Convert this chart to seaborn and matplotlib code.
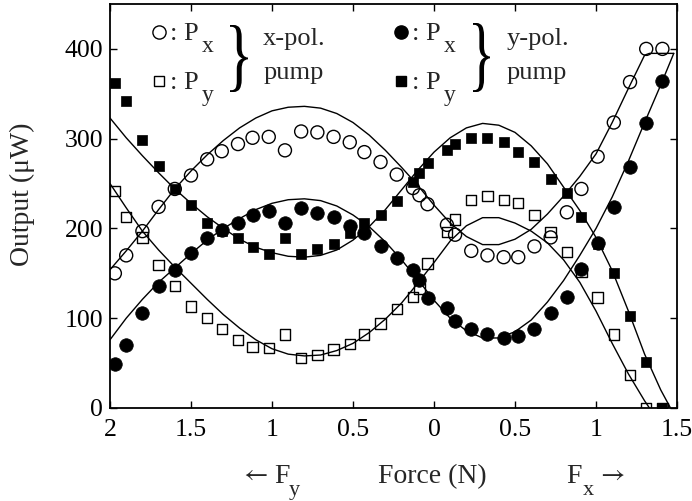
import matplotlib
matplotlib.use("Agg")
import matplotlib.pyplot as plt
import numpy as np
import pandas as pd
import seaborn as sns
from matplotlib.textpath import TextPath
from matplotlib.patches import PathPatch
from matplotlib.font_manager import FontProperties
from matplotlib.transforms import Affine2D, IdentityTransform
from matplotlib.ticker import FixedLocator, FuncFormatter

# ---------------------------------------------------------------- data
# Applied force (N). F_y is drawn to the left of zero, F_x to the right.
fy_force = [1.97, 1.90, 1.80, 1.70, 1.60, 1.50, 1.40, 1.31, 1.21, 1.12, 1.02,
            0.92, 0.82, 0.72, 0.62, 0.52, 0.43, 0.33, 0.23, 0.13, 0.09, 0.04]
fx_force = [0.08, 0.13, 0.23, 0.33, 0.43, 0.52, 0.62, 0.72, 0.82, 0.91, 1.01,
            1.11, 1.21, 1.31, 1.41]

# Measured output power (uW)
px_xpump = [150, 170, 197, 224, 244, 259, 277, 286, 294, 301, 302,
            287, 308, 307, 302, 296, 285, 274, 260, 245, 237, 227,
            204, 193, 175, 170, 168, 168, 180, 190, 218, 244, 280, 318, 363, 400, 400]
py_xpump = [242, 213, 190, 159, 136, 113, 100, 88, 76, 68, 67,
            82, 56, 59, 65, 71, 82, 94, 110, 124, 133, 161,
            196, 210, 232, 236, 232, 228, 215, 196, 174, 152, 123, 82, 37, 0, 0]
px_ypump = [49, 70, 106, 136, 154, 173, 189, 198, 206, 215, 219,
            206, 223, 217, 213, 203, 195, 181, 167, 154, 143, 122,
            111, 97, 88, 82, 78, 80, 88, 106, 124, 155, 184, 224, 268, 317, 364]
py_ypump = [362, 342, 298, 269, 244, 226, 206, 197, 189, 179, 171,
            189, 171, 177, 183, 195, 206, 215, 231, 252, 262, 273,
            287, 294, 301, 301, 296, 285, 274, 255, 240, 213, 183, 150, 102, 51, 0]

# Calculated curves on a signed force axis (negative = F_y side)
theory_pos = [-2.0, -1.9, -1.8, -1.7, -1.6, -1.5, -1.4, -1.3, -1.2, -1.1, -1.0,
              -0.9, -0.8, -0.7, -0.6, -0.5, -0.4, -0.3, -0.2, -0.1, 0.0,
              0.1, 0.2, 0.3, 0.4, 0.5, 0.6, 0.7, 0.8, 0.9, 1.0, 1.1, 1.2, 1.3]
px_xpump_calc = [154, 175, 197, 221, 244, 264, 282, 298, 312, 323, 331,
                 335, 336, 334, 328, 318, 304, 287, 268, 248, 226,
                 206, 191, 182, 182, 188, 199, 216, 236, 258, 283, 318, 356, 393]
px_ypump_calc = [76, 100, 121, 140, 156, 172, 187, 200, 211, 221, 228,
                 232, 233, 231, 225, 215, 202, 185, 165, 143, 120,
                 100, 86, 78, 78, 85, 98, 118, 142, 170, 200, 235, 275, 318]
py_ypump_calc = [323, 301, 281, 262, 244, 228, 213, 200, 188, 179, 173,
                 169, 168, 170, 176, 187, 202, 221, 243, 265, 285,
                 301, 312, 317, 315, 307, 292, 272, 246, 220, 190, 153, 108, 60]
py_xpump_calc = [250, 223, 197, 176, 157, 139, 121, 104, 89, 76, 66,
                 60, 58, 59, 64, 72, 84, 99, 117, 139, 162,
                 186, 203, 212, 212, 206, 197, 184, 165, 140, 108, 72, 38, 8]
# end segments of the calculated curves
px_xpump_tail_pos, px_xpump_tail_val = [1.33, 1.48], [395, 395]
px_ypump_tail_pos, px_ypump_tail_val = [1.4, 1.48], [360, 395]
py_ypump_tail_pos, py_ypump_tail_val = [1.4, 1.46], [20, 0]
py_xpump_tail_pos, py_xpump_tail_val = [1.33], [0]

x_ticks = [-2.0, -1.5, -1.0, -0.5, 0.0, 0.5, 1.0, 1.5]
y_ticks = [0, 100, 200, 300, 400]

# ---------------------------------------------------------------- style
sns.set_theme(style="ticks")
plt.rcParams["font.family"] = ["Liberation Serif", "DejaVu Serif"]
plt.rcParams["mathtext.fontset"] = "stix"

W, H = 692, 501
fig = plt.figure(figsize=(W / 100, H / 100), dpi=100)
ax = fig.add_axes([110 / W, 1 - 408 / H, 567 / W, 404 / H])

pos = [-f for f in fy_force] + list(fx_force)
points = pd.DataFrame({
    "pos": pos * 4,
    "power": px_xpump + py_xpump + px_ypump + py_ypump,
    "series": (["px_x"] * len(pos) + ["py_x"] * len(pos)
               + ["px_y"] * len(pos) + ["py_y"] * len(pos)),
})

# calculated curves
curves = [
    (theory_pos + px_xpump_tail_pos, px_xpump_calc + px_xpump_tail_val),
    (theory_pos + px_ypump_tail_pos, px_ypump_calc + px_ypump_tail_val),
    (theory_pos + py_ypump_tail_pos, py_ypump_calc + py_ypump_tail_val),
    (theory_pos + py_xpump_tail_pos, py_xpump_calc + py_xpump_tail_val),
]
for cx, cy in curves:
    sns.lineplot(x=cx, y=cy, sort=False, estimator=None, color="black",
                 linewidth=1.0, ax=ax)

styles = {
    "px_x": dict(marker="o", s=88, facecolor="none", edgecolor="black", linewidth=1.0),
    "py_x": dict(marker="s", s=55, facecolor="none", edgecolor="black", linewidth=1.0),
    "px_y": dict(marker="o", s=95, facecolor="black", edgecolor="black", linewidth=0.5),
    "py_y": dict(marker="s", s=60, facecolor="black", edgecolor="black", linewidth=0.5),
}
for name, kw in styles.items():
    sub = points[points["series"] == name]
    sns.scatterplot(data=sub, x="pos", y="power", color="black", ax=ax,
                    legend=False, zorder=3, **kw)

ax.set_xlim(-2.0, 1.5)
ax.set_ylim(0, 450)
ax.xaxis.set_major_locator(FixedLocator(x_ticks))
ax.yaxis.set_major_locator(FixedLocator(y_ticks))
ax.xaxis.set_major_formatter(FuncFormatter(lambda v, p: f"{abs(v):g}"))
ax.yaxis.set_major_formatter(FuncFormatter(lambda v, p: f"{v:g}"))
ax.tick_params(direction="in", length=5, width=1.0, top=True, right=True,
               labelsize=18.5, colors="black")
ax.tick_params(axis="x", pad=8)
ax.tick_params(axis="y", pad=5)
for sp in ax.spines.values():
    sp.set_linewidth(1.3)
    sp.set_color("black")
ax.set_xlabel("")
ax.set_ylabel("")


def px2fig(px, py):
    return px / W, 1 - py / H


# axis titles
fig.text(*px2fig(22, 194), "Output (μW)", rotation=90, ha="center", va="center",
         fontsize=20)
fig.text(*px2fig(432, 483), "Force (N)", ha="center", va="baseline", fontsize=20)
fig.text(*px2fig(240, 481), r"$\leftarrow$", ha="left", va="baseline", fontsize=19)
fig.text(*px2fig(274, 483), "F", ha="left", va="baseline", fontsize=20)
fig.text(*px2fig(289, 495), "y", ha="left", va="baseline", fontsize=16)
fig.text(*px2fig(566, 483), "F", ha="left", va="baseline", fontsize=20)
fig.text(*px2fig(583, 495), "x", ha="left", va="baseline", fontsize=16)
fig.text(*px2fig(597, 481), r"$\rightarrow$", ha="left", va="baseline", fontsize=19)

# key
leg_size = 19
key = [
    (159, 32, dict(marker="o", mfc="none", mec="black", ms=9.5, mew=1.0), "x"),
    (159, 81, dict(marker="s", mfc="none", mec="black", ms=7.0, mew=1.0), "y"),
    (401, 32, dict(marker="o", mfc="black", mec="black", ms=9.5), "x"),
    (401, 81, dict(marker="s", mfc="black", mec="black", ms=7.0), "y"),
]
for mx, my, mkw, sub in key:
    ax.plot([mx / W], [1 - my / H], transform=fig.transFigure, clip_on=False,
            linestyle="none", **mkw)
    fig.text(*px2fig(mx + 11, my + 8), ":", ha="left", va="baseline",
             fontsize=leg_size)
    fig.text(*px2fig(mx + 24, my + 8), "P", ha="left", va="baseline",
             fontsize=leg_size)
    fig.text(*px2fig(mx + 43, my + 20), sub, ha="left", va="baseline",
             fontsize=leg_size - 2)

fig.text(*px2fig(263, 45), "x-pol.", ha="left", va="baseline", fontsize=leg_size)
fig.text(*px2fig(264, 79), "pump", ha="left", va="baseline", fontsize=leg_size)
fig.text(*px2fig(507, 45), "y-pol.", ha="left", va="baseline", fontsize=leg_size)
fig.text(*px2fig(507, 79), "pump", ha="left", va="baseline", fontsize=leg_size)

# grouping braces
brace_path = TextPath((0, 0), "}", size=100,
                      prop=FontProperties(family="Liberation Serif"))
ext = brace_path.get_extents()
for x0, x1, y0, y1 in [(230, 248, 25, 92), (473, 490, 23, 92)]:
    tr = (Affine2D().translate(-ext.x0, -ext.y0)
          .scale((x1 - x0) / ext.width, (y1 - y0) / ext.height)
          .translate(x0, H - y1))
    fig.add_artist(PathPatch(tr.transform_path(brace_path), facecolor="black",
                             edgecolor="none", transform=IdentityTransform()))

fig.savefig("out.png", dpi=100)
